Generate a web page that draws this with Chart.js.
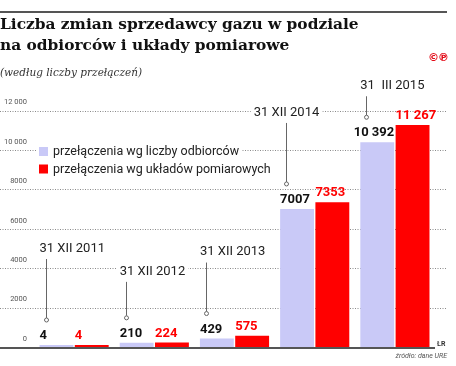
<!DOCTYPE html>
<html lang="pl">
<head>
<meta charset="utf-8">
<script src="https://cdn.jsdelivr.net/npm/chart.js@4.4.1/dist/chart.umd.min.js"></script>
<style>
  html, body { margin: 0; padding: 0; background: #fff; }
  #wrap { position: relative; width: 456px; height: 366px; overflow: hidden; }
  #chart { position: absolute; left: 0; top: 0; }
  .txt { position: absolute; white-space: nowrap; }
  .rule { position: absolute; left: 0; top: 11px; width: 447px; height: 2px; background: #555; }
  .title { left: 0; top: 14px; font: bold 15.4px/20.5px "DejaVu Serif", serif; color: #111; }
  .subtitle { left: 0; top: 65px; font: italic 10.5px/14px "DejaVu Serif", serif; color: #333; }
  .logo { right: 8px; top: 51px; font: bold 11px/13px "DejaVu Sans", sans-serif; color: #e30613; letter-spacing: -1px; }
  .author { left: 437px; top: 339px; font: bold 7px/10px Roboto, sans-serif; color: #333; }
  .source { right: 9px; top: 351px; font: italic 7px/10px Roboto, sans-serif; color: #555; }
</style>
</head>
<body>
<div id="wrap">
  <canvas id="chart" width="456" height="366"></canvas>
  <div class="rule"></div>
  <div class="txt title">Liczba zmian sprzedawcy gazu w podziale<br>na odbiorców i układy pomiarowe</div>
  <div class="txt subtitle">(według liczby przełączeń)</div>
  <div class="txt logo">©℗</div>
  <div class="txt author">ŁR</div>
  <div class="txt source">źródło: dane URE</div>
</div>
<script>
// Data
const categories = ['31 XII 2011', '31 XII 2012', '31 XII 2013', '31 XII 2014', '31  III 2015'];
const seriesNames = ['przełączenia wg liczby odbiorców', 'przełączenia wg układów pomiarowych'];
const byCustomers = [4, 210, 429, 7007, 10392];
const byMeters = [4, 224, 575, 7353, 11267];
const tickValues = [0, 2000, 4000, 6000, 8000, 10000, 12000];
const tickLabels = ['0', '2000', '4000', '6000', '8000', '10 000', '12 000'];

const LAVENDER = '#c9c9f7';
const RED = '#ff0000';

// polish style grouping: 10 392
function fmt(n) {
    return n >= 10000 ? String(n).replace(/\B(?=(\d{3})+(?!\d))/g, ' ') : String(n);
}

// dotted grid + y tick labels, drawn across the full width
const gridPlugin = {
    id: 'grid',
    beforeDatasetsDraw(chart) {
        const ctx = chart.ctx;
        const y = chart.scales.y;
        ctx.save();
        ctx.strokeStyle = '#8a8a8a';
        ctx.lineWidth = 1;
        ctx.setLineDash([1, 1.5]);
        tickValues.forEach(v => {
            if (v === 0) return;
            const py = Math.round(y.getPixelForValue(v)) + 0.5;
            ctx.beginPath();
            ctx.moveTo(0, py);
            ctx.lineTo(447, py);
            ctx.stroke();
        });
        ctx.setLineDash([]);
        ctx.fillStyle = '#555';
        ctx.font = '7.5px Roboto, sans-serif';
        ctx.textAlign = 'right';
        ctx.textBaseline = 'middle';
        tickValues.forEach((v, i) => {
            ctx.fillText(tickLabels[i], 27, y.getPixelForValue(v) - 8);
        });
        ctx.restore();
    }
};

// baseline, legend, value labels and date notes
const notesPlugin = {
    id: 'notes',
    afterDatasetsDraw(chart, args, opts) {
        const ctx = chart.ctx;
        const area = chart.chartArea;
        const y0 = chart.scales.y.getPixelForValue(0);
        ctx.save();

        // baseline
        ctx.strokeStyle = '#555';
        ctx.lineWidth = 2;
        ctx.beginPath();
        ctx.moveTo(0, y0 + 1);
        ctx.lineTo(area.right, y0 + 1);
        ctx.stroke();

        // legend with white backing over the grid
        ctx.font = '12.5px Roboto, sans-serif';
        ctx.textBaseline = 'middle';
        ctx.textAlign = 'left';
        chart.data.datasets.forEach((ds, i) => {
            const ly = opts.legendY[i];
            const lx = area.left + 5;
            const w = ctx.measureText(ds.label).width;
            ctx.fillStyle = '#fff';
            ctx.fillRect(lx - 2, ly - 8, w + 18, 16);
            ctx.fillStyle = ds.backgroundColor;
            ctx.fillRect(lx, ly - 4.5, 9, 9);
            ctx.fillStyle = '#222';
            ctx.fillText(ds.label, lx + 14, ly + 0.5);
        });

        // value labels above bars
        ctx.font = 'bold 13px Roboto, sans-serif';
        ctx.textBaseline = 'alphabetic';
        chart.data.datasets.forEach((ds, d) => {
            const meta = chart.getDatasetMeta(d);
            meta.data.forEach((bar, i) => {
                const txt = fmt(ds.data[i]);
                const w = ctx.measureText(txt).width;
                const left = bar.x - bar.width / 2;
                ctx.fillStyle = d === 0 ? '#111' : RED;
                if (d === 0 && w > bar.width) {
                    ctx.textAlign = 'right';
                    ctx.fillText(txt, left + bar.width, bar.y - 6);
                } else {
                    ctx.textAlign = 'left';
                    ctx.fillText(txt, left, bar.y - 6);
                }
            });
        });

        // date notes with leader lines
        const meta0 = chart.getDatasetMeta(0);
        ctx.font = '13px Roboto, sans-serif';
        ctx.textBaseline = 'middle';
        meta0.data.forEach((bar, i) => {
            const left = bar.x - bar.width / 2;
            const lx = Math.round(left + 6) + 0.5;
            const cy = bar.y - 25;
            const ty = cy - opts.lift[i];
            const txt = chart.data.labels[i];
            const w = ctx.measureText(txt).width;
            const tx = opts.centered[i] ? lx - w / 2 : left;
            ctx.fillStyle = '#fff';
            ctx.fillRect(tx - 3, ty - 8, w + 6, 16);
            ctx.fillStyle = '#222';
            ctx.textAlign = 'left';
            ctx.fillText(txt, tx, ty + 0.5);

            ctx.strokeStyle = '#666';
            ctx.lineWidth = 1;
            ctx.beginPath();
            ctx.moveTo(lx, ty + 11);
            ctx.lineTo(lx, cy - 2);
            ctx.stroke();
            ctx.beginPath();
            ctx.arc(lx, cy, 2, 0, Math.PI * 2);
            ctx.fillStyle = '#fff';
            ctx.fill();
            ctx.stroke();
        });
        ctx.restore();
    }
};

new Chart(document.getElementById('chart'), {
    type: 'bar',
    data: {
        labels: categories,
        datasets: [{
            label: seriesNames[0],
            data: byCustomers,
            backgroundColor: LAVENDER,
            minBarLength: 2
        }, {
            label: seriesNames[1],
            data: byMeters,
            backgroundColor: RED,
            minBarLength: 2
        }]
    },
    options: {
        responsive: false,
        animation: false,
        categoryPercentage: 0.88,
        barPercentage: 0.96,
        layout: {
            padding: { left: 34, right: 21, top: 110.6, bottom: 19 }
        },
        scales: {
            x: { display: false },
            y: { display: false, min: 0, max: 12000 }
        },
        plugins: {
            legend: { display: false },
            tooltip: { enabled: false },
            notes: {
                legendY: [151.5, 169],
                lift: [72, 47, 62, 72, 32],
                centered: [false, false, false, true, false]
            }
        }
    },
    plugins: [gridPlugin, notesPlugin]
});
</script>
</body>
</html>
